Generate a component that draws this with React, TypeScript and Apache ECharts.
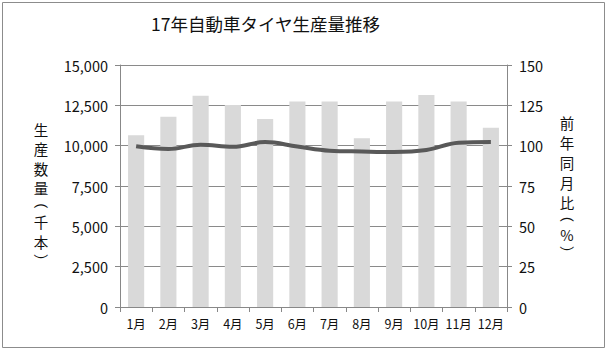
import React, { useEffect, useRef } from "react";
import * as echarts from "echarts";

const months = ["1月", "2月", "3月", "4月", "5月", "6月", "7月", "8月", "9月", "10月", "11月", "12月"];
const production = [10650, 11800, 13100, 12520, 11650, 12730, 12730, 10460, 12730, 13140, 12730, 11110];
const yoy = [99.6, 97.9, 100.6, 99.3, 102.2, 99.5, 96.9, 96.4, 96.1, 97.3, 101.8, 102.2];
const title = "17年自動車タイヤ生産量推移";
const leftName = ["生", "産", "数", "量", "（", "千", "本", "）"];
const rightName = ["前", "年", "同", "月", "比", "（", "%", "）"];

const FONT = "'Noto Sans CJK JP', 'Noto Sans', sans-serif";

function verticalText(chars: string[], x: number, y0: number, step: number, parenStep: number) {
  const out: any[] = [];
  let y = y0;
  chars.forEach((c, i) => {
    const isParen = c === "（" || c === "）";
    if (i > 0) {
      const prevParen = chars[i - 1] === "（" || chars[i - 1] === "）";
      y += isParen || prevParen ? parenStep : step;
    }
    const shift = c === "（" ? -3 : c === "）" ? 3 : 0;
    out.push({
      type: "text",
      x,
      y: y + shift,
      rotation: isParen ? -Math.PI / 2 : 0,
      silent: true,
      style: {
        text: c,
        fontSize: 14.5,
        lineHeight: 14,
        fontFamily: FONT,
        fill: "#111",
        align: "center",
        verticalAlign: "middle",
      },
    });
  });
  return out;
}

export default function App() {
  const ref = useRef<HTMLDivElement>(null);
  useEffect(() => {
    if (!ref.current) return;
    const chart = echarts.init(ref.current, undefined, { renderer: "svg" });
    chart.setOption({
      animation: false,
      backgroundColor: "#ffffff",
      textStyle: { fontFamily: FONT },
      title: {
        text: title,
        left: 146,
        top: 10,
        textStyle: { fontFamily: FONT, fontSize: 17.5, fontWeight: "normal", color: "#111" },
      },
      grid: { left: 120, right: 101, top: 65, bottom: 44 },
      xAxis: {
        type: "category",
        data: months,
        axisLine: { lineStyle: { color: "#888", width: 1 } },
        axisTick: { show: true, length: 5, lineStyle: { color: "#888" } },
        axisLabel: { color: "#111", fontSize: 12.5, fontFamily: FONT, margin: 10, interval: 0 },
      },
      yAxis: [
        {
          type: "value",
          min: 0,
          max: 15000,
          interval: 2500,
          axisLine: { show: true, lineStyle: { color: "#888" } },
          axisTick: { show: true, length: 5, lineStyle: { color: "#888" } },
          axisLabel: {
            color: "#111",
            fontSize: 14.5,
            fontFamily: FONT,
            margin: 12,
            formatter: (v: number) => v.toLocaleString("en-US"),
          },
          splitLine: { show: true, lineStyle: { color: "#8a8a8a", width: 1 } },
        },
        {
          type: "value",
          min: 0,
          max: 150,
          interval: 25,
          position: "right",
          axisLine: { show: true, lineStyle: { color: "#888" } },
          axisTick: { show: true, length: 5, lineStyle: { color: "#888" } },
          axisLabel: { color: "#111", fontSize: 14.5, fontFamily: FONT, margin: 12 },
          splitLine: { show: false },
        },
      ],
      series: [
        {
          type: "bar",
          data: production,
          barWidth: "50%",
          itemStyle: { color: "#d9d9d9" },
          z: 2,
        },
        {
          type: "line",
          yAxisIndex: 1,
          data: yoy,
          smooth: 0.4,
          symbol: "none",
          lineStyle: { color: "#595959", width: 4 },
          z: 3,
        },
      ],
      graphic: [
        {
          type: "rect",
          shape: { x: 2.5, y: 2.5, width: 602, height: 345 },
          style: { fill: "none", stroke: "#8c8c8c", lineWidth: 1 },
          silent: true,
        },
        ...verticalText(leftName, 41, 129, 19.5, 17),
        ...verticalText(rightName, 567, 122, 20, 16),
      ],
    });
    return () => chart.dispose();
  }, []);
  return (
    <div
      ref={ref}
      style={{ position: "fixed", left: 0, top: 0, width: 608, height: 351 }}
    />
  );
}
